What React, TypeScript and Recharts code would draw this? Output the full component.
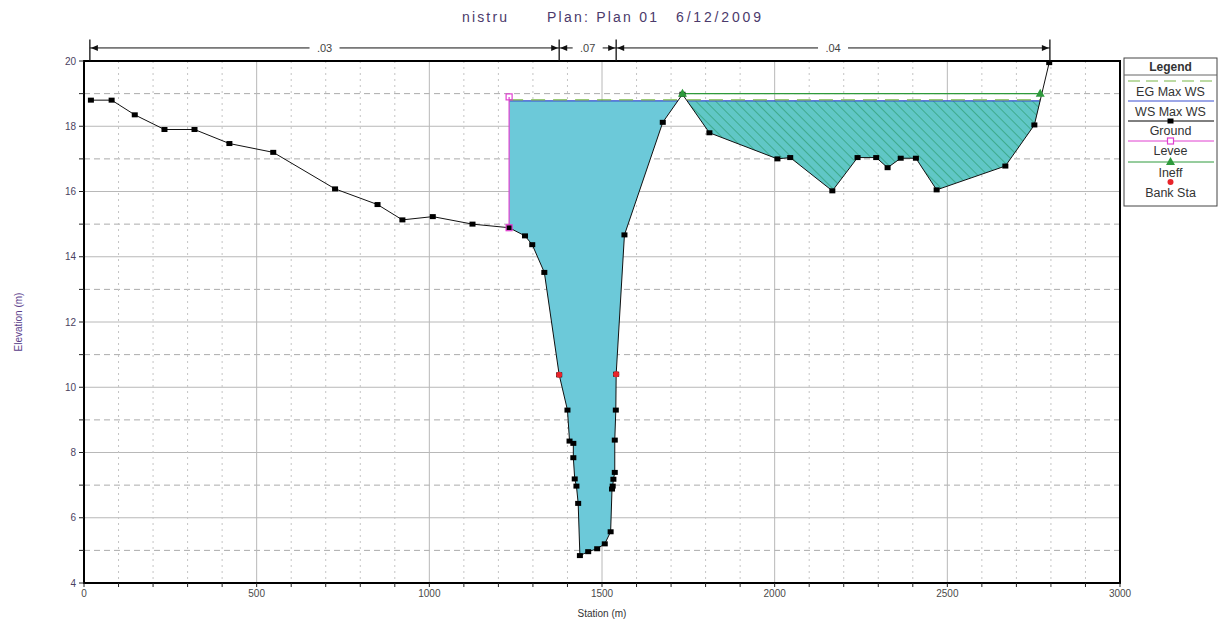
import React from 'react';
import { ComposedChart, XAxis, YAxis, CartesianGrid, Area, Line, ReferenceLine, ReferenceArea } from 'recharts';

// ---------- data ----------
const groundStation = [20, 80, 147, 233, 320, 421, 548, 727, 850, 922, 1010, 1125, 1231, 1277, 1298, 1333, 1376, 1400, 1406, 1417, 1417, 1421, 1426, 1431, 1436, 1460, 1486, 1508, 1525, 1529, 1531, 1533, 1537, 1537, 1540, 1541, 1565, 1676, 1733, 1811, 2008, 2045, 2167, 2240, 2294, 2327, 2365, 2409, 2469, 2668, 2752, 2795];
const groundElevation = [18.8, 18.8, 18.35, 17.9, 17.9, 17.47, 17.2, 16.08, 15.6, 15.13, 15.23, 15.0, 14.89, 14.64, 14.37, 13.52, 10.38, 9.3, 8.35, 8.28, 7.84, 7.19, 6.97, 6.44, 4.84, 4.96, 5.05, 5.2, 5.57, 6.88, 6.97, 7.18, 7.39, 8.38, 9.3, 10.4, 14.67, 18.12, 18.98, 17.8, 17.0, 17.04, 16.02, 17.04, 17.04, 16.73, 17.02, 17.02, 16.05, 16.78, 18.04, 19.95];

const wsElevation = 18.78;
const egElevation = 18.81;
const wsLeftEdges = [1231, 1720];
const wsRightEdges = [1746, 2769];

const leveeStation = 1231;
const leveeElevations = [14.89, 18.9];

const ineffStations = [1733, 2769];
const ineffElevation = 19.0;

const bankStations = [1376, 1541];
const bankElevations = [10.38, 10.4];

const manningBreaks = [17, 1376, 1541, 2797];
const manningValues = ['.03', '.07', '.04'];
const manningLineElev = 20.4;
const manningTickTop = 20.66;

const xTicks = [0, 100, 200, 300, 400, 500, 600, 700, 800, 900, 1000, 1100, 1200, 1300, 1400, 1500, 1600, 1700, 1800, 1900, 2000, 2100, 2200, 2300, 2400, 2500, 2600, 2700, 2800, 2900, 3000];
const yTicks = [4, 5, 6, 7, 8, 9, 10, 11, 12, 13, 14, 15, 16, 17, 18, 19, 20];

const legendItems = ['EG Max WS', 'WS Max WS', 'Ground', 'Levee', 'Ineff', 'Bank Sta'];

// ---------- derived tables ----------
const ground = groundStation.map((x, i) => ({ x, y: groundElevation[i] }));

const waterLeft = [
  ...ground.filter(p => p.x >= wsLeftEdges[0] && p.x < wsLeftEdges[1]).map(p => ({ x: p.x, range: [p.y, wsElevation] })),
  { x: wsLeftEdges[1], range: [wsElevation, wsElevation] },
];
const waterRight = [
  { x: wsRightEdges[0], range: [wsElevation, wsElevation] },
  ...ground.filter(p => p.x > wsRightEdges[0] && p.x < wsRightEdges[1]).map(p => ({ x: p.x, range: [p.y, wsElevation] })),
  { x: wsRightEdges[1], range: [wsElevation, wsElevation] },
];
const wsLeft = wsLeftEdges.map(x => ({ x, y: wsElevation }));
const wsRight = wsRightEdges.map(x => ({ x, y: wsElevation }));
const egLeft = wsLeftEdges.map(x => ({ x, y: egElevation }));
const egRight = wsRightEdges.map(x => ({ x, y: egElevation }));
const levee = leveeElevations.map(y => ({ x: leveeStation, y }));
const ineff = ineffStations.map(x => ({ x, y: ineffElevation }));
const bank = bankStations.map((x, i) => ({ x, y: bankElevations[i] }));

const X_MAX = 3000, Y_MIN = 4, Y_MAX = 20;

// ---------- renderers ----------
const squareDot = (p: any) => (
  <rect key={`g-${p.index}`} x={p.cx - 3} y={p.cy - 2.5} width={6} height={5} fill="#000" />
);
const hollowSquare = (p: any) => (
  <rect key={`l-${p.index}`} x={p.cx - 3} y={p.cy - 3} width={6} height={6} fill="none" stroke="#e040d0" strokeWidth={1.2} />
);
const triDot = (p: any) => (
  <polygon key={`t-${p.index}`} points={`${p.cx},${p.cy - 5} ${p.cx - 4.5},${p.cy + 3} ${p.cx + 4.5},${p.cy + 3}`} fill="#2e9a3c" />
);
const redDot = (p: any) => (
  <circle key={`b-${p.index}`} cx={p.cx} cy={p.cy} r={3} fill="#e8242a" />
);

const vGrid = (p: any) => {
  const left = p.x ?? 84, w = p.width ?? 1036;
  const val = Math.round(((p.x1 - left) / w) * X_MAX);
  if (val <= 0 || val >= X_MAX) return null;
  const major = val % 500 === 0;
  return (
    <line key={`v-${p.index}`} x1={p.x1} y1={p.y1} x2={p.x2} y2={p.y2}
      stroke={major ? '#b8b8b8' : '#c4c4c4'} strokeWidth={1}
      strokeDasharray={major ? undefined : '2 4'} />
  );
};
const hGrid = (p: any) => {
  const top = p.y ?? 61, h = p.height ?? 522;
  const val = Math.round(Y_MAX - ((p.y1 - top) / h) * (Y_MAX - Y_MIN));
  if (val <= Y_MIN || val >= Y_MAX) return null;
  const major = val % 2 === 0;
  return (
    <line key={`h-${p.index}`} x1={p.x1} y1={p.y1} x2={p.x2} y2={p.y2}
      stroke={major ? '#b8b8b8' : '#ababab'} strokeWidth={1}
      strokeDasharray={major ? undefined : '6 4'} />
  );
};

const manningShape = (label: string) => (p: any) => {
  const { x1, y1, x2 } = p;
  const mid = (x1 + x2) / 2;
  return (
    <g>
      <line x1={x1} y1={y1} x2={x2} y2={y1} stroke="#111" strokeWidth={1} />
      <polygon points={`${x1 + 1},${y1} ${x1 + 8},${y1 - 3} ${x1 + 8},${y1 + 3}`} fill="#111" />
      <polygon points={`${x2 - 1},${y1} ${x2 - 8},${y1 - 3} ${x2 - 8},${y1 + 3}`} fill="#111" />
      <rect x={mid - 15} y={y1 - 6} width={30} height={12} fill="#fff" />
      <text x={mid} y={y1 + 4} textAnchor="middle" fontSize={11} fill="#444" fontFamily="Liberation Sans, Arial">{label}</text>
    </g>
  );
};

const tickStyle = { fontSize: 10, fill: '#4a4a4a', fontFamily: 'Liberation Sans, Arial' };

function LegendBox() {
  const left = 1124, right = 1217;
  const cx = (left + right) / 2;
  const symY = [81, 101, 121, 141, 162, 182];
  const labY = [96, 116, 135, 155, 177, 197];
  const x1 = left + 4, x2 = right - 3;
  return (
    <g fontFamily="Liberation Sans, Arial">
      <rect x={left} y={58} width={right - left} height={148} fill="#fff" stroke="#444" strokeWidth={1} />
      <text x={cx} y={71} textAnchor="middle" fontSize={12} fontWeight="bold" fill="#333">Legend</text>
      <line x1={left} y1={75} x2={right} y2={75} stroke="#666" strokeWidth={1} />
      <line x1={x1} y1={symY[0]} x2={x2} y2={symY[0]} stroke="#7ab648" strokeWidth={1.2} strokeDasharray="12 6" />
      <line x1={x1} y1={symY[1]} x2={x2} y2={symY[1]} stroke="#3b4fd0" strokeWidth={1.2} />
      <line x1={x1} y1={symY[2]} x2={x2} y2={symY[2]} stroke="#000" strokeWidth={1} />
      <rect x={cx - 3} y={symY[2] - 2.5} width={6} height={5} fill="#000" />
      <line x1={x1} y1={symY[3]} x2={x2} y2={symY[3]} stroke="#e040d0" strokeWidth={1} />
      <rect x={cx - 3} y={symY[3] - 3} width={6} height={6} fill="#fff" stroke="#e040d0" strokeWidth={1.2} />
      <line x1={x1} y1={symY[4]} x2={x2} y2={symY[4]} stroke="#2e9a3c" strokeWidth={1} />
      <polygon points={`${cx},${symY[4] - 5} ${cx - 4.5},${symY[4] + 3} ${cx + 4.5},${symY[4] + 3}`} fill="#2e9a3c" />
      <circle cx={cx} cy={symY[5]} r={3} fill="#e8242a" />
      {legendItems.map((t, i) => (
        <text key={t} x={cx} y={labY[i]} textAnchor="middle" fontSize={12.5} fill="#333">{t}</text>
      ))}
    </g>
  );
}

export default function App() {
  return (
    <div style={{ position: 'absolute', left: 0, top: 0, width: 1219, height: 620, background: '#fff' }}>
      <ComposedChart width={1219} height={620} margin={{ top: 61, right: 99, bottom: 0, left: 0 }}>
        <defs>
          <pattern id="hatch" patternUnits="userSpaceOnUse" width={7} height={7} patternTransform="rotate(-45)">
            <rect x={0} y={0} width={7} height={7} fill="#60c7c6" />
            <line x1={0} y1={0} x2={0} y2={7} stroke="#2c9c6e" strokeWidth={1.3} />
          </pattern>
        </defs>
        <CartesianGrid vertical={vGrid} horizontal={hGrid} />
        <XAxis type="number" dataKey="x" domain={[0, X_MAX]} ticks={xTicks} interval={0}
          allowDataOverflow height={37} tickSize={4} tickMargin={3}
          tickFormatter={(v: number) => (v % 500 === 0 ? String(v) : '')}
          tick={tickStyle} axisLine={false} tickLine={{ stroke: '#222' }}
          label={{ value: 'Station (m)', position: 'insideBottom', offset: 3, style: { fontSize: 10, fill: '#333', fontFamily: 'Liberation Sans, Arial' } }} />
        <YAxis type="number" domain={[Y_MIN, Y_MAX]} ticks={yTicks} interval={0}
          allowDataOverflow width={84} tickSize={5} tickMargin={3}
          tickFormatter={(v: number) => (v % 2 === 0 ? String(v) : '')}
          tick={{ ...tickStyle, fill: '#4b3f5f' }} axisLine={false} tickLine={{ stroke: '#222' }}
          label={{ value: 'Elevation (m)', angle: -90, position: 'insideLeft', offset: 18, style: { fontSize: 10, fill: '#5a3d8a', fontFamily: 'Liberation Sans, Arial', textAnchor: 'middle' } }} />

        <Area data={waterLeft} dataKey="range" type="linear" stroke="none" fill="#6cc9d9" fillOpacity={1} isAnimationActive={false} />
        <Area data={waterRight} dataKey="range" type="linear" stroke="none" fill="url(#hatch)" fillOpacity={1} isAnimationActive={false} />

        <Line data={wsLeft} dataKey="y" type="linear" stroke="#3b4fd0" strokeWidth={1.3} dot={false} isAnimationActive={false} />
        <Line data={wsRight} dataKey="y" type="linear" stroke="#3b4fd0" strokeWidth={1.3} dot={false} isAnimationActive={false} />
        <Line data={egLeft} dataKey="y" type="linear" stroke="#7ab648" strokeWidth={1.2} strokeDasharray="14 8" dot={false} isAnimationActive={false} />
        <Line data={egRight} dataKey="y" type="linear" stroke="#7ab648" strokeWidth={1.2} strokeDasharray="14 8" dot={false} isAnimationActive={false} />

        <Line data={ground} dataKey="y" type="linear" stroke="#111" strokeWidth={1} dot={squareDot} isAnimationActive={false} />
        <Line data={levee} dataKey="y" type="linear" stroke="#e040d0" strokeWidth={1.2} dot={hollowSquare} isAnimationActive={false} />
        <Line data={ineff} dataKey="y" type="linear" stroke="#2e9a3c" strokeWidth={1.2} dot={triDot} isAnimationActive={false} />
        <Line data={bank} dataKey="y" type="linear" stroke="none" dot={redDot} isAnimationActive={false} />

        <ReferenceArea x1={0} x2={X_MAX} y1={Y_MIN} y2={Y_MAX} fill="none" stroke="#000" strokeWidth={2} ifOverflow="visible" />

        {manningValues.map((v, i) => (
          <ReferenceLine key={`m-${i}`} ifOverflow="visible"
            segment={[{ x: manningBreaks[i], y: manningLineElev }, { x: manningBreaks[i + 1], y: manningLineElev }]}
            shape={manningShape(v)} />
        ))}
        {manningBreaks.map((b, i) => (
          <ReferenceLine key={`mb-${i}`} ifOverflow="visible" stroke="#111" strokeWidth={1.3}
            segment={[{ x: b, y: Y_MAX }, { x: b, y: manningTickTop }]} />
        ))}
      </ComposedChart>
      <svg width={1219} height={620} style={{ position: 'absolute', left: 0, top: 0, pointerEvents: 'none' }}>
        <g fontFamily="Liberation Sans, Arial" fontSize={14} fill="#4b3a6b">
          <text x={462} y={22} textLength={45}>nistru</text>
          <text x={547} y={22} textLength={110}>Plan: Plan 01</text>
          <text x={676} y={22} textLength={85}>6/12/2009</text>
        </g>
        <LegendBox />
      </svg>
    </div>
  );
}
